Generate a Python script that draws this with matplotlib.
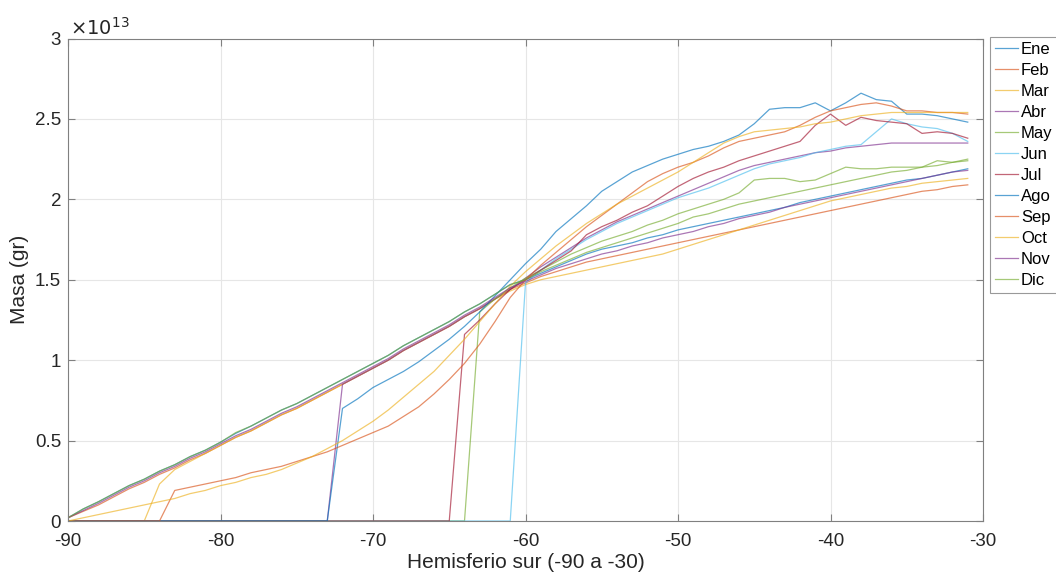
import matplotlib
matplotlib.use("Agg")
import matplotlib.pyplot as plt

plt.rcParams['font.family'] = ['Liberation Sans', 'DejaVu Sans']

# Latitude (degrees), southern hemisphere
lat = list(range(-90, -30))

# Mass values in units of 1e13 g
masa_ene = [0.02, 0.075, 0.12, 0.17, 0.22, 0.26, 0.31, 0.35, 0.40, 0.44,
            0.49, 0.545, 0.59, 0.64, 0.69, 0.73, 0.78, 0.83, 0.88, 0.93,
            0.98, 1.03, 1.09, 1.14, 1.19, 1.24, 1.30, 1.35, 1.41, 1.47,
            1.50, 1.54, 1.58, 1.62, 1.66, 1.69, 1.71, 1.73, 1.76, 1.78,
            1.81, 1.83, 1.85, 1.87, 1.89, 1.91, 1.93, 1.95, 1.98, 2.00,
            2.02, 2.04, 2.06, 2.08, 2.10, 2.12, 2.13, 2.15, 2.17, 2.19]
masa_feb = [0.02, 0.06, 0.10, 0.15, 0.20, 0.24, 0.29, 0.33, 0.38, 0.42,
            0.47, 0.52, 0.56, 0.61, 0.66, 0.70, 0.75, 0.80, 0.85, 0.90,
            0.95, 1.00, 1.06, 1.11, 1.16, 1.21, 1.27, 1.32, 1.38, 1.44,
            1.48, 1.52, 1.55, 1.58, 1.61, 1.63, 1.65, 1.67, 1.69, 1.71,
            1.73, 1.75, 1.77, 1.79, 1.81, 1.83, 1.85, 1.87, 1.89, 1.91,
            1.93, 1.95, 1.97, 1.99, 2.01, 2.03, 2.05, 2.06, 2.08, 2.09]
masa_mar = [0.00, 0.00, 0.00, 0.00, 0.00, 0.00, 0.23, 0.32, 0.37, 0.42,
            0.47, 0.52, 0.56, 0.61, 0.66, 0.70, 0.75, 0.80, 0.85, 0.90,
            0.95, 1.00, 1.06, 1.11, 1.16, 1.21, 1.27, 1.32, 1.38, 1.43,
            1.47, 1.50, 1.52, 1.54, 1.56, 1.58, 1.60, 1.62, 1.64, 1.66,
            1.69, 1.72, 1.75, 1.78, 1.81, 1.84, 1.87, 1.90, 1.93, 1.96,
            1.99, 2.01, 2.03, 2.05, 2.07, 2.08, 2.10, 2.11, 2.12, 2.13]
masa_abr = [0.00, 0.00, 0.00, 0.00, 0.00, 0.00, 0.00, 0.00, 0.00, 0.00,
            0.00, 0.00, 0.00, 0.00, 0.00, 0.00, 0.00, 0.00, 0.85, 0.90,
            0.95, 1.00, 1.06, 1.11, 1.16, 1.21, 1.27, 1.32, 1.38, 1.44,
            1.51, 1.58, 1.64, 1.70, 1.76, 1.81, 1.86, 1.90, 1.94, 1.98,
            2.02, 2.06, 2.10, 2.14, 2.18, 2.21, 2.23, 2.25, 2.27, 2.29,
            2.30, 2.32, 2.33, 2.34, 2.35, 2.35, 2.35, 2.35, 2.35, 2.35]
masa_may = [0.00, 0.00, 0.00, 0.00, 0.00, 0.00, 0.00, 0.00, 0.00, 0.00,
            0.00, 0.00, 0.00, 0.00, 0.00, 0.00, 0.00, 0.00, 0.00, 0.00,
            0.00, 0.00, 0.00, 0.00, 0.00, 0.00, 0.00, 1.30, 1.38, 1.45,
            1.51, 1.56, 1.61, 1.66, 1.70, 1.74, 1.77, 1.80, 1.84, 1.87,
            1.91, 1.94, 1.97, 2.00, 2.04, 2.12, 2.13, 2.13, 2.11, 2.12,
            2.16, 2.20, 2.19, 2.19, 2.20, 2.20, 2.20, 2.24, 2.23, 2.25]
masa_jun = [0.00, 0.00, 0.00, 0.00, 0.00, 0.00, 0.00, 0.00, 0.00, 0.00,
            0.00, 0.00, 0.00, 0.00, 0.00, 0.00, 0.00, 0.00, 0.00, 0.00,
            0.00, 0.00, 0.00, 0.00, 0.00, 0.00, 0.00, 0.00, 0.00, 0.00,
            1.48, 1.56, 1.63, 1.69, 1.75, 1.80, 1.85, 1.89, 1.93, 1.97,
            2.01, 2.04, 2.07, 2.11, 2.15, 2.19, 2.22, 2.24, 2.26, 2.29,
            2.31, 2.33, 2.34, 2.42, 2.50, 2.47, 2.45, 2.44, 2.41, 2.36]
masa_jul = [0.00, 0.00, 0.00, 0.00, 0.00, 0.00, 0.00, 0.00, 0.00, 0.00,
            0.00, 0.00, 0.00, 0.00, 0.00, 0.00, 0.00, 0.00, 0.00, 0.00,
            0.00, 0.00, 0.00, 0.00, 0.00, 0.00, 1.16, 1.25, 1.35, 1.44,
            1.50, 1.56, 1.62, 1.68, 1.78, 1.83, 1.87, 1.92, 1.96, 2.02,
            2.08, 2.13, 2.17, 2.20, 2.24, 2.27, 2.30, 2.33, 2.36, 2.46,
            2.53, 2.46, 2.51, 2.49, 2.48, 2.47, 2.41, 2.42, 2.41, 2.38]
masa_ago = [0.00, 0.00, 0.00, 0.00, 0.00, 0.00, 0.00, 0.00, 0.00, 0.00,
            0.00, 0.00, 0.00, 0.00, 0.00, 0.00, 0.00, 0.00, 0.70, 0.76,
            0.83, 0.88, 0.93, 0.99, 1.06, 1.13, 1.21, 1.30, 1.40, 1.50,
            1.60, 1.69, 1.80, 1.88, 1.96, 2.05, 2.11, 2.17, 2.21, 2.25,
            2.28, 2.31, 2.33, 2.36, 2.40, 2.47, 2.56, 2.57, 2.57, 2.60,
            2.55, 2.60, 2.66, 2.62, 2.61, 2.53, 2.53, 2.52, 2.50, 2.48]
masa_sep = [0.00, 0.00, 0.00, 0.00, 0.00, 0.00, 0.00, 0.19, 0.21, 0.23,
            0.25, 0.27, 0.30, 0.32, 0.34, 0.37, 0.40, 0.43, 0.47, 0.51,
            0.55, 0.59, 0.65, 0.71, 0.79, 0.88, 0.98, 1.10, 1.24, 1.39,
            1.50, 1.59, 1.67, 1.75, 1.83, 1.90, 1.97, 2.04, 2.11, 2.16,
            2.20, 2.23, 2.27, 2.32, 2.36, 2.38, 2.40, 2.42, 2.46, 2.51,
            2.55, 2.57, 2.59, 2.60, 2.58, 2.55, 2.55, 2.54, 2.54, 2.53]
masa_oct = [0.00, 0.02, 0.04, 0.06, 0.08, 0.10, 0.12, 0.14, 0.17, 0.19,
            0.22, 0.24, 0.27, 0.29, 0.32, 0.36, 0.40, 0.45, 0.50, 0.56,
            0.62, 0.69, 0.77, 0.85, 0.93, 1.03, 1.13, 1.24, 1.35, 1.46,
            1.55, 1.63, 1.71, 1.78, 1.85, 1.91, 1.97, 2.02, 2.07, 2.12,
            2.17, 2.23, 2.29, 2.35, 2.39, 2.42, 2.43, 2.44, 2.45, 2.47,
            2.48, 2.50, 2.52, 2.53, 2.54, 2.54, 2.54, 2.54, 2.54, 2.54]
masa_nov = [0.02, 0.065, 0.11, 0.16, 0.21, 0.25, 0.30, 0.34, 0.39, 0.43,
            0.48, 0.53, 0.57, 0.62, 0.67, 0.71, 0.76, 0.81, 0.86, 0.91,
            0.96, 1.01, 1.07, 1.12, 1.17, 1.22, 1.28, 1.33, 1.39, 1.45,
            1.49, 1.53, 1.57, 1.60, 1.63, 1.66, 1.68, 1.71, 1.73, 1.76,
            1.78, 1.80, 1.83, 1.85, 1.88, 1.90, 1.92, 1.95, 1.97, 1.99,
            2.01, 2.03, 2.05, 2.07, 2.09, 2.11, 2.13, 2.15, 2.17, 2.18]
masa_dic = [0.02, 0.075, 0.12, 0.17, 0.22, 0.26, 0.31, 0.35, 0.40, 0.44,
            0.49, 0.55, 0.59, 0.64, 0.69, 0.73, 0.78, 0.83, 0.88, 0.93,
            0.98, 1.03, 1.09, 1.14, 1.19, 1.24, 1.30, 1.35, 1.41, 1.47,
            1.50, 1.55, 1.59, 1.63, 1.67, 1.70, 1.73, 1.76, 1.79, 1.82,
            1.85, 1.89, 1.91, 1.94, 1.97, 1.99, 2.01, 2.03, 2.05, 2.07,
            2.09, 2.11, 2.13, 2.15, 2.17, 2.18, 2.20, 2.21, 2.23, 2.24]

meses = ['Ene', 'Feb', 'Mar', 'Abr', 'May', 'Jun', 'Jul', 'Ago', 'Sep',
         'Oct', 'Nov', 'Dic']
series = [masa_ene, masa_feb, masa_mar, masa_abr, masa_may, masa_jun,
          masa_jul, masa_ago, masa_sep, masa_oct, masa_nov, masa_dic]

xticks = [-90, -80, -70, -60, -50, -40, -30]
yticks = [0, 0.5, 1, 1.5, 2, 2.5, 3]
ytick_labels = ['0', '0.5', '1', '1.5', '2', '2.5', '3']

matlab_colors = [(0, 0.447, 0.741), (0.850, 0.325, 0.098),
                 (0.929, 0.694, 0.125), (0.494, 0.184, 0.556),
                 (0.466, 0.674, 0.188), (0.301, 0.745, 0.933),
                 (0.635, 0.078, 0.184)]

fig = plt.figure(figsize=(10.56, 5.81), dpi=100)
left, right, top, bottom = 68 / 1056, 983 / 1056, 38.5 / 581, 521 / 581
ax = fig.add_axes([left, 1 - bottom, right - left, bottom - top])

lines = []
for i, (name, vals) in enumerate(zip(meses, series)):
    ln, = ax.plot(lat, vals, color=matlab_colors[i % 7], lw=0.9,
                  alpha=0.65, label=name)
    lines.append(ln)

ax.set_xlim(-90, -30)
ax.set_ylim(0, 3)
ax.set_xticks(xticks)
ax.set_xticklabels([str(t) for t in xticks])
ax.set_yticks(yticks)
ax.set_yticklabels(ytick_labels)
ax.grid(True, color='#e6e6e6', lw=0.8)
ax.set_axisbelow(True)
ax.tick_params(direction='in', length=5, width=0.8, top=True, right=True,
               colors='#808080', labelcolor='#262626', labelsize=13.5)
ax.tick_params(axis='x', pad=9)
ax.tick_params(axis='y', pad=5)
for s in ax.spines.values():
    s.set_color('#808080')
    s.set_linewidth(0.8)

ax.set_xlabel('Hemisferio sur (-90 a -30)', fontsize=15, color='#262626')
ax.xaxis.set_label_coords(0.5, (521 - 562) / (521 - 38.5))
ax.xaxis.label.set_va('center')
ax.set_ylabel('Masa (gr)', fontsize=15, color='#262626')
ax.yaxis.set_label_coords((20 - 68) / (983 - 68), 0.5)
ax.yaxis.label.set_va('center')

fig.text(70 / 1056, 1 - 35 / 581, r'$\times10^{13}$', fontsize=14,
         color='#262626', ha='left', va='baseline')

leg = fig.legend(handles=lines, loc='upper left',
                 bbox_to_anchor=(990 / 1056, 1 - 37 / 581), fontsize=12,
                 frameon=True, fancybox=False, edgecolor='#808080',
                 handlelength=1.4, handletextpad=0.15, labelspacing=0.36,
                 borderpad=0.3, borderaxespad=0)
leg.get_frame().set_linewidth(0.8)

fig.savefig('out.png', dpi=100)
